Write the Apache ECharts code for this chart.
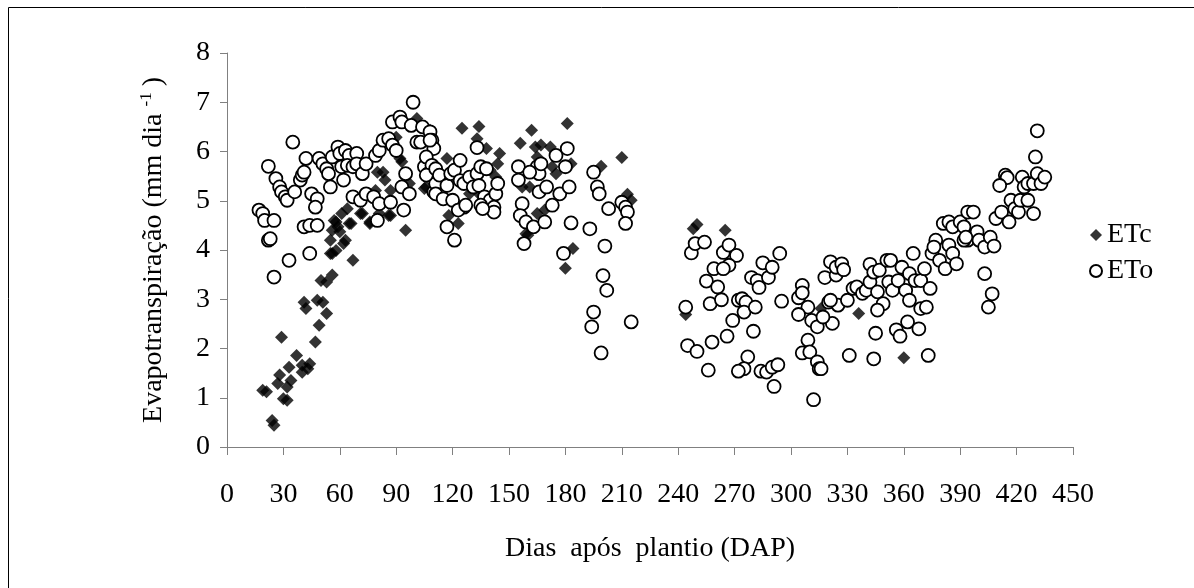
<!DOCTYPE html>
<html>
<head>
<meta charset="utf-8">
<script src="https://cdn.jsdelivr.net/npm/echarts@6/dist/echarts.min.js"></script>
<style>
html,body{margin:0;padding:0;background:#fff;}
#chart{width:1194px;height:588px;}
</style>
</head>
<body>
<div id="chart"></div>
<script>
// ---- Data (day after planting, mm/day) ----
const seriesNames = ['ETc', 'ETo'];
const xTicks = [0,30,60,90,120,150,180,210,240,270,300,330,360,390,420,450];
const yTicks = [0,1,2,3,4,5,6,7,8];

const etc = [
[19,1.15],[21,1.12],[24,0.54],[25,0.44],[27,1.29],[28,1.46],[29,2.23],[30,0.98],[32,0.95],[32,1.22],
[34,1.35],[33,1.62],[37,1.86],[40,1.66],[40,1.52],[43,1.59],[44,1.69],[41,2.94],[42,2.81],[47,2.13],
[48,2.98],[51,2.94],[49,2.47],[53,2.71],[50,3.38],[53,3.35],[56,3.49],[55,4.20],[56,3.93],[58,3.99],
[57,4.60],[59,4.47],[60,4.37],[63,4.20],[61,4.74],[64,4.84],[67,3.79],[66,4.54],[72,4.74],[76,4.57],
[80,5.58],[83,5.58],[84,5.42],[87,4.70],[90,6.29],[93,5.79],[95,4.40],[101,6.67],[105,5.25],[97,5.35],
[92,5.86],[79,5.21],[87,5.21],[71,4.74],[65,4.54],[58,4.57],[56,4.40],[62,4.13],[55,3.93],[81,4.74],
[86,4.70],[76,4.54],[108,6.43],
[106,5.28],[117,5.86],[118,4.70],[123,4.54],[125,6.47],[134,6.51],[133,6.26],[138,6.06],[145,5.96],[144,5.75],
[129,5.14],[134,5.14],[140,5.62],[143,5.48],[156,6.17],[162,6.43],[164,6.09],[167,6.13],[172,6.09],[181,6.57],
[157,5.28],[161,5.28],[165,5.89],[173,5.69],[175,5.55],[183,5.75],[159,4.33],[165,4.74],[169,4.81],[184,4.03],
[180,3.63],[199,5.70],[210,5.88],[213,5.13],[215,5.01],[160,4.30],
[248,4.43],[250,4.52],[265,4.40],[244,2.69],[316,2.81],[336,2.71],[360,1.81]
];

const eto = [
[17,4.81],[19,4.74],[20,4.60],[22,4.20],[23,4.23],[25,4.60],[22,5.70],[25,3.45],[26,5.45],[28,5.28],
[29,5.18],[31,5.08],[32,5.01],[33,3.79],[35,6.19],[36,5.18],[39,5.42],[40,5.52],[41,5.58],[42,5.86],
[41,4.47],[44,4.50],[48,4.50],[44,3.93],[45,5.14],[48,5.04],[47,4.87],[49,5.86],[51,5.75],[53,5.65],
[54,5.55],[55,5.28],[56,5.89],[59,6.09],[60,5.96],[63,6.02],[65,5.92],[69,5.96],[62,5.42],[61,5.69],
[64,5.72],[67,5.69],[69,5.75],[67,5.08],[71,5.01],[74,5.14],[78,5.08],[81,4.94],[80,4.60],[87,4.97],
[72,5.55],[74,5.75],[79,5.92],[81,6.02],[83,6.23],[86,6.26],[88,6.13],[90,6.02],[88,6.60],[92,6.70],
[93,6.60],[94,4.81],[93,5.28],[95,5.55],[97,5.14],[99,7.00],[98,6.53],[104,6.50],[108,6.40],[101,6.19],
[103,6.19],[109,6.23],[110,6.06],[105,5.69],[107,5.55],[110,5.18],[111,5.35],
[108,6.23],[106,5.89],[109,5.72],[106,5.52],[111,5.65],[113,5.52],[111,5.14],[115,5.04],[117,5.31],[119,5.55],
[120,5.01],[121,5.62],[124,5.82],[124,5.41],[126,5.35],[126,4.87],[117,4.47],[121,4.20],[123,4.81],[127,4.91],
[129,5.48],[131,5.28],[133,5.55],[134,5.31],[135,5.69],[138,5.65],[137,5.08],[140,5.01],[142,4.87],[142,4.77],
[143,5.14],[144,5.35],[135,4.91],[136,4.84],[133,6.08],
[155,5.69],[155,5.42],[157,4.94],[156,4.70],[158,4.13],[159,4.57],[163,4.47],[165,5.69],[166,5.55],[167,5.75],
[166,5.18],[170,5.28],[173,4.91],[175,5.92],[177,5.14],[181,6.06],[180,5.69],[182,5.28],[169,4.57],[161,5.58],
[183,4.55],[179,3.93],[193,4.43],[195,5.58],[197,5.28],[198,5.14],[201,4.08],[203,4.84],[200,3.48],[202,3.18],
[195,2.74],[194,2.44],[199,1.91],[210,4.97],[212,4.87],[213,4.77],[212,4.54],[215,2.54],
[244,2.84],[247,3.94],[249,4.13],[254,4.16],[245,2.06],[250,1.94],[256,1.56],[258,2.13],[255,3.37],[259,3.62],
[261,3.25],[257,2.91],[263,2.99],[264,3.95],[267,4.10],[271,3.89],[267,3.69],[264,3.62],[266,2.25],[269,2.57],
[272,2.98],[274,3.01],[276,2.94],[275,2.74],[281,2.84],[277,1.83],[275,1.59],[272,1.54],[280,2.35],[279,3.44],
[282,3.38],[283,3.24],[285,3.74],[288,3.44],[290,3.65],[294,3.93],[295,2.96],[284,1.54],[287,1.52],[290,1.62],
[293,1.67],[291,1.23],[304,3.03],[306,3.28],[306,3.13],[309,2.84],[304,2.69],[311,2.57],[314,2.44],[309,2.17],
[306,1.91],[310,1.93],[314,1.73],[315,1.59],[312,0.96],[318,3.44],[321,3.76],[324,3.49],[320,2.94],[322,2.51],
[317,2.64],[325,2.88],
[324,3.65],[327,3.72],[328,3.60],[321,2.98],[316,1.59],[331,1.86],[344,1.79],[373,1.86],[330,2.98],[333,3.22],
[335,3.25],[338,3.12],[340,3.18],[342,3.35],[342,3.71],[344,3.55],[347,3.59],[346,3.15],[349,2.91],[346,2.78],
[351,3.79],[353,3.79],[352,3.35],[354,3.18],[357,3.38],[359,3.65],[361,3.18],[363,3.52],[365,3.93],[363,2.98],
[369,2.81],[372,2.84],[366,3.38],[369,3.38],[371,3.62],[374,3.22],[345,2.31],[356,2.38],[358,2.25],[362,2.54],
[368,2.40],
[375,3.93],[377,4.20],[376,4.06],[379,3.79],[382,3.62],[384,4.10],[386,3.93],[388,3.72],[381,4.54],[384,4.57],
[386,4.47],[390,4.57],[392,4.47],[394,4.77],[397,4.77],[394,4.20],[399,4.37],[400,4.20],[403,4.06],[406,4.26],
[408,4.08],[403,3.52],[407,3.11],[405,2.84],[392,4.20],[393,4.26],
[409,4.64],[412,4.77],[414,5.52],[415,5.47],[411,5.31],[417,5.01],[416,4.57],[419,4.84],[421,4.77],[422,5.01],
[423,5.48],[424,5.28],[426,5.35],[426,5.01],[429,4.74],[429,5.35],[431,5.55],[430,5.89],[431,6.42],[433,5.35],
[435,5.48]
];

const xTitle = 'Dias  após  plantio (DAP)';
const yTitle = 'Evapotranspiração (mm dia {sup|-1}{n|)}';

// ---- Chart ----
const FONT = '"Liberation Serif", "Times New Roman", serif';
const chart = echarts.init(document.getElementById('chart'), null, {renderer: 'canvas'});
chart.setOption({
  backgroundColor: '#ffffff',
  animation: false,
  textStyle: {fontFamily: FONT, color: '#000'},
  graphic: [{
    type: 'rect', silent: true, z: -10,
    shape: {x: 8.5, y: 7.5, width: 1300, height: 700},
    style: {fill: 'none', stroke: '#000', lineWidth: 1}
  }],
  grid: {left: 227, right: 121, top: 53, bottom: 141, containLabel: false},
  legend: {
    orient: 'vertical', left: 1084, top: 216, itemGap: 8,
    itemWidth: 12, itemHeight: 12,
    textStyle: {fontFamily: FONT, fontSize: 28, color: '#000'},
    data: [{name: 'ETc', icon: 'diamond'}, {name: 'ETo', icon: 'circle'}]
  },
  xAxis: {
    type: 'value', min: 0, max: 450, interval: 30,
    name: xTitle, nameLocation: 'middle', nameGap: 88,
    nameTextStyle: {fontFamily: FONT, fontSize: 28, color: '#000'},
    axisLine: {show: true, lineStyle: {color: '#808080', width: 1}},
    axisTick: {show: true, inside: false, length: 8, lineStyle: {color: '#808080'}},
    axisLabel: {fontFamily: FONT, fontSize: 28, color: '#000', margin: 34,
      formatter: v => xTicks.includes(v) ? String(v) : ''},
    splitLine: {show: false}
  },
  yAxis: {
    type: 'value', min: 0, max: 8, interval: 1,
    name: yTitle, nameLocation: 'middle', nameGap: 58,
    nameTextStyle: {fontFamily: FONT, fontSize: 28, color: '#000',
      rich: {
        sup: {fontFamily: FONT, fontSize: 17, color: '#000', verticalAlign: 'bottom', padding: [0, 6, 14, 0]},
        n: {fontFamily: FONT, fontSize: 28, color: '#000'}
      }},
    axisLine: {show: true, lineStyle: {color: '#808080', width: 1}},
    axisTick: {show: true, inside: false, length: 7, lineStyle: {color: '#808080'}},
    axisLabel: {fontFamily: FONT, fontSize: 28, color: '#000', margin: 17,
      formatter: v => yTicks.includes(v) ? String(v) : ''},
    splitLine: {show: false}
  },
  series: [
    {
      name: seriesNames[0], type: 'scatter', data: etc, symbol: 'diamond', symbolSize: 13, z: 2,
      itemStyle: {color: '#000', borderColor: '#000', borderWidth: 0}
    },
    {
      name: seriesNames[1], type: 'scatter', data: eto, symbol: 'circle', symbolSize: 13, z: 3,
      itemStyle: {color: '#fff', borderColor: '#000', borderWidth: 1.8, opacity: 1}
    }
  ]
});
</script>
</body>
</html>
